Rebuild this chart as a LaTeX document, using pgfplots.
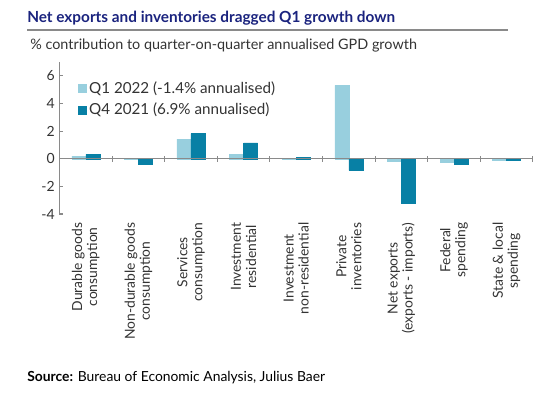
\documentclass[border=0pt]{standalone}
\usepackage{pgfplots}
\pgfplotsset{compat=1.18}
\usepackage{fontspec}
\setmainfont{Lato}
\definecolor{lightb}{HTML}{98CFDE}
\definecolor{darkb}{HTML}{0880A5}
\definecolor{navy}{HTML}{1A237E}
\definecolor{axgray}{HTML}{8A8A8A}
\begin{document}
\begin{tikzpicture}
\path[use as bounding box] (0,0) rectangle (415.5pt,297pt);
\node[anchor=west, font=\bfseries\fontsize{11.5}{13}\selectfont, text=navy, inner sep=0] at (20.25pt,283.5pt) {Net exports and inventories dragged Q1 growth down};
\draw[axgray, line width=1.4pt] (20.25pt,274.5pt) -- (381pt,274.5pt);
\node[anchor=west, font=\fontsize{10.8}{12}\selectfont, text=black!80, inner sep=0] at (22.5pt,262.5pt) {\% contribution to quarter-on-quarter annualised GPD growth};
\node[anchor=west, font=\fontsize{10.4}{12}\selectfont, inner sep=0] at (20.25pt,13.5pt) {\textbf{Source:} Bureau of Economic Analysis, Julius Baer};
\begin{axis}[
  scale only axis,
  width=355.1pt, height=113.9pt,
  at={(44.6pt,136.5pt)}, anchor=south west,
  ymin=-4, ymax=7,
  xmin=-0.5, xmax=8.5,
  ytick={-4,-2,0,2,4,6},
  xtick={0,...,8},
  xticklabels={{Durable goods\\consumption},{Non-durable goods\\consumption},{Services\\consumption},{Investment\\residential},{Investment\\non-residential},{Private\\inventories},{Net exports\\(exports - imports)},{Federal\\spending},{State \& local\\spending}},
  xticklabel style={rotate=90, anchor=east, align=center, font=\fontsize{10.4}{11.3}\selectfont, text=black!80},
  yticklabel style={font=\fontsize{10.5}{12}\selectfont, text=black!80},
  /pgf/number format/assume math mode=true,
  axis x line=bottom,
  x axis line style={draw=none},
  axis y line*=left,
  y axis line style={axgray, line width=1pt, -},
  major tick length=3pt,
  ytick style={axgray, line width=0.8pt},
  xtick style={draw=none},
  ybar=0pt, bar width=10.5pt,
  legend style={at={(0.03,0.91)}, anchor=north west, draw=none, fill=none, font=\fontsize{11.4}{13}\selectfont, text=black!80, legend cell align=left, row sep=2pt},
  legend image code/.code={\fill[#1] (0pt,-3pt) rectangle (6pt,3pt);},
  clip=false,
]
\addplot[fill=lightb, draw=lightb] coordinates {(0,0.19) (1,0.02) (2,1.42) (3,0.33) (4,0.05) (5,5.32) (6,-0.2) (7,-0.24) (8,-0.1)};
\addplot[fill=darkb, draw=darkb] coordinates {(0,0.31) (1,-0.41) (2,1.83) (3,1.15) (4,0.08) (5,-0.84) (6,-3.23) (7,-0.42) (8,-0.1)};
\legend{Q1 2022 (-1.4\% annualised), Q4 2021 (6.9\% annualised)}
\draw[axgray, line width=0.9pt] (axis cs:-0.5,0) -- (axis cs:8.5,0);
\pgfplotsinvokeforeach{0.5,1.5,...,8.5}{\draw[axgray, line width=0.8pt] (axis cs:#1,-0.22) -- (axis cs:#1,0.22);}
\end{axis}
\end{tikzpicture}
\end{document}
